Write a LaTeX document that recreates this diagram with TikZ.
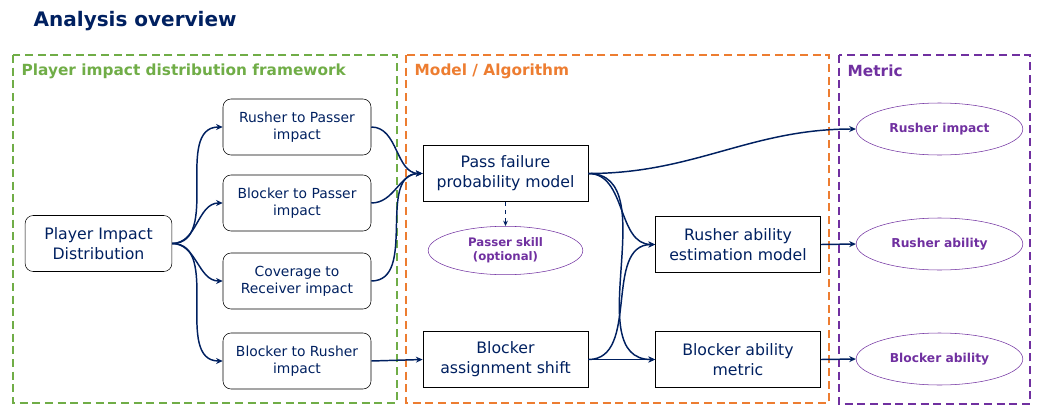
\documentclass[tikz,border=0pt]{standalone}
\usepackage{fontspec}
\setmainfont{DejaVu Sans}
\usepackage{tikz}
\usetikzlibrary{arrows.meta,shapes.geometric}
\definecolor{navy}{HTML}{002060}
\definecolor{frgreen}{HTML}{70AD47}
\definecolor{frorange}{HTML}{ED7D31}
\definecolor{frpurple}{HTML}{7030A0}

\tikzset{
	smallbox/.style={draw, rounded corners=6pt, minimum width=111pt, minimum height=42pt, align=center, text=navy, font=\fontsize{10.4}{12.8}\selectfont},
	pidbox/.style={smallbox, minimum width=110pt, font=\fontsize{11.8}{15}\selectfont},
	bigbox/.style={draw, minimum width=124pt, minimum height=42pt, align=center, text=navy, font=\fontsize{11.8}{15}\selectfont},
	metricell/.style={ellipse, draw=frpurple, minimum width=125pt, minimum height=39pt, align=center, text=frpurple, font=\bfseries\fontsize{9.2}{10.5}\selectfont},
	conn/.style={navy, line width=1.1pt, -{Stealth[length=5pt,width=4.5pt]}},
	frame/.style={dash pattern=on 6pt off 3.5pt, line width=1.3pt},
	framelabel/.style={anchor=west, font=\bfseries\fontsize{11.5}{13}\selectfont},
}

\begin{document}
\begin{tikzpicture}[x=0.75pt, y=-0.75pt]
	\useasboundingbox (0,0) rectangle (1043,414);
	\node[anchor=west, text=navy, font=\bfseries\fontsize{15}{17}\selectfont] (title) at (29,21) {Analysis overview};

	% frames
	\draw[frame, frgreen] (13,55) rectangle (397,403);
	\draw[frame, frorange] (406,55) rectangle (829,403);
	\draw[frame, frpurple] (839,55) rectangle (1030,404);
	\node[framelabel, text=frgreen] (lblpid) at (17,71) {Player impact distribution framework};
	\node[framelabel, text=frorange] (lblmodel) at (410,71) {Model / Algorithm};
	\node[framelabel, text=frpurple] (lblmetric) at (843,71) {Metric};

	% player impact distribution
	\node[pidbox] (pid) at (98.5,243.5) {Player Impact\\Distribution};
	\node[smallbox] (rp) at (297,127) {Rusher to Passer\\impact};
	\node[smallbox] (bp) at (297,203) {Blocker to Passer\\impact};
	\node[smallbox] (cr) at (297,281) {Coverage to\\Receiver impact};
	\node[smallbox] (br) at (297,361) {Blocker to Rusher\\impact};

	% model / algorithm
	\node[bigbox] (pfpm) at (505.5,173.5) {Pass failure\\probability model};
	\node[metricell, minimum width=116pt, minimum height=28pt, font=\bfseries\fontsize{8.8}{10.5}\selectfont] (skill) at (505.5,250.5) {Passer skill\\(optional)};
	\node[bigbox] (bas) at (505.5,359.5) {Blocker\\assignment shift};
	\node[bigbox] (raem) at (738,244.5) {Rusher ability\\estimation model};
	\node[bigbox] (bam) at (738,359.5) {Blocker ability\\metric};

	% metric
	\node[metricell] (rimp) at (939.5,129) {Rusher impact};
	\node[metricell] (rabl) at (939.5,244) {Rusher ability};
	\node[metricell] (babl) at (939.5,359) {Blocker ability};

	% connectors
	\foreach \t in {rp,bp,cr,br} \draw[conn] (pid.east) to[out=0, in=180] (\t.west);
	\foreach \s in {rp,bp,cr} \draw[conn] (\s.east) to[out=0, in=180] (pfpm.west);
	\draw[conn] (br.east) -- (bas.west);
	\draw[conn] (pfpm.east) to[out=0, in=180] (rimp.west);
	\draw[conn] (pfpm.east) to[out=0, in=180] (raem.west);
	\draw[conn] (pfpm.east) to[out=0, in=180] (bam.west);
	\draw[conn] (bas.east) to[out=0, in=180] (raem.west);
	\draw[conn] (bas.east) -- (bam.west);
	\draw[conn] (raem.east) -- (rabl.west);
	\draw[conn] (bam.east) -- (babl.west);
	\draw[navy, dashed, line width=0.6pt, -{Stealth[length=4pt,width=3.5pt]}] (pfpm.south) -- (skill.north);
\end{tikzpicture}
\end{document}
